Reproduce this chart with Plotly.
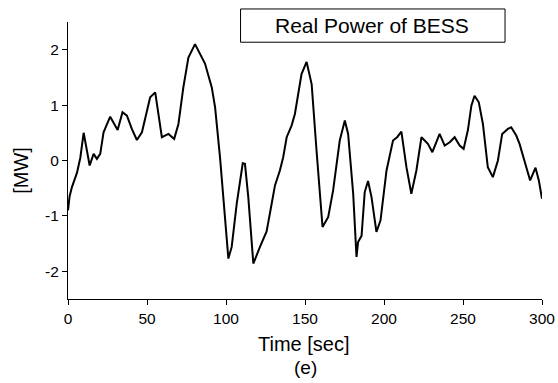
import plotly.graph_objects as go

time_s = [0, 1, 2.5, 5.7, 7.8, 9.9, 13.7, 16.2, 18.3, 20.4, 22.5, 26.7, 31.4, 34.5, 37.3,
          40.4, 43.6, 46.8, 52, 55.2, 59.4, 63.6, 67.2, 69.9, 73, 76.2, 80.4, 83.6, 86.7,
          91, 93.1, 96.2, 99.4, 101.5, 103.6, 106.8, 110.6, 112, 114.1, 117.3, 121.5,
          125.7, 128.9, 131, 134.1, 136.2, 138.4, 141.5, 143.6, 147.8, 151, 154.2, 157.3,
          161.1, 164.7, 167.8, 172, 175.2, 177.3, 180.5, 182.6, 183.6, 185.8, 187.8,
          189.9, 192.1, 195.2, 197.8, 201.6, 205.7, 208.3, 211, 214.2, 217.3, 220.5,
          223.7, 227.8, 230.6, 235.2, 238.4, 241.6, 244.7, 247.9, 250.4, 253.1, 255.3,
          257.3, 260, 262.6, 265.7, 268.9, 272.1, 274.8, 278.4, 280.5, 283.7, 285.8,
          288.9, 292.5, 295.9, 298, 300]
power_mw = [-0.9, -0.65, -0.48, -0.22, 0.05, 0.5, -0.09, 0.12, 0.03, 0.12, 0.51, 0.79, 0.55,
            0.87, 0.81, 0.57, 0.37, 0.51, 1.14, 1.23, 0.42, 0.48, 0.39, 0.66, 1.32, 1.86,
            2.1, 1.93, 1.75, 1.32, 0.96, 0.06, -1.14, -1.77, -1.56, -0.78, -0.05, -0.06,
            -0.66, -1.86, -1.56, -1.28, -0.78, -0.45, -0.18, 0.06, 0.42, 0.63, 0.84, 1.56,
            1.78, 1.38, 0.18, -1.2, -1.02, -0.54, 0.36, 0.72, 0.48, -0.6, -1.74, -1.47,
            -1.36, -0.57, -0.37, -0.66, -1.29, -1.08, -0.18, 0.36, 0.42, 0.52, -0.12, -0.6,
            -0.18, 0.42, 0.3, 0.15, 0.48, 0.27, 0.33, 0.42, 0.27, 0.21, 0.55, 0.99, 1.17,
            1.05, 0.66, -0.12, -0.3, 0.0, 0.48, 0.57, 0.6, 0.45, 0.3, 0.0, -0.36, -0.13,
            -0.36, -0.69]

x_ticks = [0, 50, 100, 150, 200, 250, 300]
y_ticks = [-2, -1, 0, 1, 2]
y_tick_labels = ["-2", "-1", "0", "1", "2"]

FONT = "Liberation Sans, Arial, sans-serif"

fig = go.Figure()
fig.add_trace(go.Scatter(x=time_s, y=power_mw, mode="lines",
                         line=dict(color="black", width=2), showlegend=False))

axis_common = dict(showline=True, linecolor="black", linewidth=1, ticks="outside",
                   ticklen=5, tickwidth=1, tickcolor="black", showgrid=False,
                   zeroline=False, mirror=False, automargin=False,
                   tickfont=dict(family=FONT, size=15.5, color="black"))

fig.update_layout(
    width=558, height=383,
    margin=dict(l=68, r=16, t=22, b=84),
    paper_bgcolor="white", plot_bgcolor="white",
    xaxis=dict(range=[0, 300], tickvals=x_ticks, **axis_common),
    yaxis=dict(range=[-2.5, 2.5], tickvals=y_ticks, ticktext=y_tick_labels, **axis_common),
    shapes=[dict(type="rect", xref="paper", yref="paper", x0=0.364, x1=0.922,
                 y0=0.927, y1=1.047, line=dict(color="black", width=1),
                 fillcolor="white")],
    annotations=[
        dict(text="Real Power of BESS", xref="paper", yref="paper", x=0.642, y=0.987,
             showarrow=False, font=dict(family=FONT, size=21, color="black"),
             xanchor="center", yanchor="middle"),
        dict(text="Time [sec]", xref="paper", yref="paper", x=0.498, y=-0.1625,
             showarrow=False, font=dict(family=FONT, size=20, color="black"),
             xanchor="center", yanchor="middle"),
        dict(text="(e)", xref="paper", yref="paper", x=0.5, y=-0.249,
             showarrow=False, font=dict(family=FONT, size=19, color="black"),
             xanchor="center", yanchor="middle"),
        dict(text="[MW]", xref="paper", yref="paper", x=-0.098, y=0.465,
             showarrow=False, textangle=-90,
             font=dict(family=FONT, size=20, color="black"),
             xanchor="center", yanchor="middle"),
    ],
)

fig.write_html("out.html")
